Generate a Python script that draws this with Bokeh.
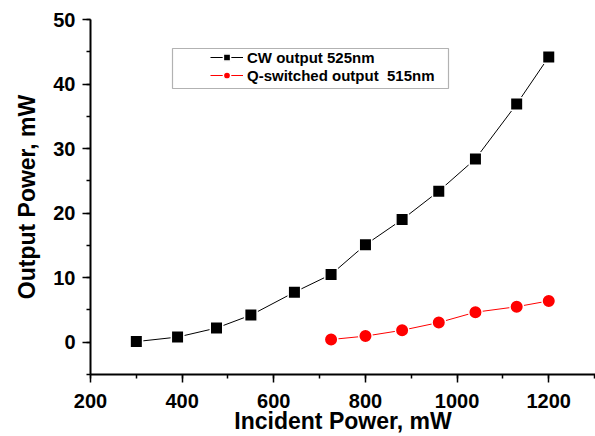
from bokeh.plotting import figure
from bokeh.models import Range1d, SingleIntervalTicker, Legend, LegendItem, BoxAnnotation
from bokeh.embed import file_html
from bokeh.resources import INLINE

# Data
cw_x = [300, 390, 475, 550, 645, 725, 800, 880, 960, 1040, 1130, 1200]
cw_y = [0.1, 0.8, 2.2, 4.2, 7.75, 10.5, 15.1, 19.0, 23.4, 28.4, 36.9, 44.2]
qs_x = [725, 800, 880, 960, 1040, 1130, 1200]
qs_y = [0.42, 0.95, 1.85, 3.05, 4.65, 5.5, 6.4]

FONT = "Liberation Sans"

p = figure(width=595, height=436, x_range=Range1d(200, 1302), y_range=Range1d(-5, 50),
           output_backend="svg", toolbar_location=None,
           min_border_left=90, min_border_right=0, min_border_top=19, min_border_bottom=62)
p.outline_line_color = None
p.grid.visible = False
p.background_fill_color = "white"

xa = p.xaxis[0]
ya = p.yaxis[0]
xa.ticker = SingleIntervalTicker(interval=200, num_minor_ticks=2)
ya.ticker = SingleIntervalTicker(interval=10, num_minor_ticks=2)

for ax in (xa, ya):
    ax.axis_line_width = 2
    ax.axis_line_color = "black"
    ax.major_tick_line_color = "black"
    ax.major_tick_line_width = 1.5
    ax.minor_tick_line_color = "black"
    ax.minor_tick_line_width = 1.5
    ax.major_tick_in = 0
    ax.major_tick_out = 8
    ax.minor_tick_in = 0
    ax.minor_tick_out = 4
    ax.major_label_text_font = FONT
    ax.major_label_text_font_style = "bold"
    ax.major_label_text_font_size = "20px"
    ax.major_label_text_color = "black"
    ax.axis_label_text_font = FONT
    ax.axis_label_text_font_style = "bold"
    ax.axis_label_text_font_size = "23px"
    ax.axis_label_text_color = "black"

xa.axis_label = "Incident Power, mW"
ya.axis_label = "Output Power, mW"
xa.major_label_standoff = 11
ya.major_label_standoff = 7
xa.axis_label_standoff = -3
xa.axis_label_text_baseline = "alphabetic"
ya.axis_label_standoff = 10

l1 = p.line(cw_x, cw_y, line_color="black", line_width=1)
s1 = p.scatter(cw_x, cw_y, marker="square", size=12.5, fill_color="black",
               line_color="white", line_width=1.5)
l2 = p.line(qs_x, qs_y, line_color="red", line_width=1)
s2 = p.scatter(qs_x, qs_y, marker="circle", size=13.5, fill_color="red",
               line_color="white", line_width=1.5)

box = BoxAnnotation(left=172, right=448, top=48, bottom=88,
                    left_units="canvas", right_units="canvas",
                    top_units="canvas", bottom_units="canvas",
                    fill_alpha=0, line_color="black", line_width=1.2)
p.add_layout(box)

legend = Legend(items=[LegendItem(label="CW output 525nm", renderers=[l1, s1]),
                       LegendItem(label="Q-switched output  515nm", renderers=[l2, s2])],
                location=(120, 290), padding=0, margin=0, spacing=-3,
                glyph_width=33, glyph_height=18, label_height=18, label_standoff=4,
                label_text_font=FONT, label_text_font_style="bold",
                label_text_font_size="15px", label_text_color="black",
                border_line_alpha=0, background_fill_alpha=0)
p.add_layout(legend, "center")

open("out.html", "w").write(file_html(p, INLINE))
